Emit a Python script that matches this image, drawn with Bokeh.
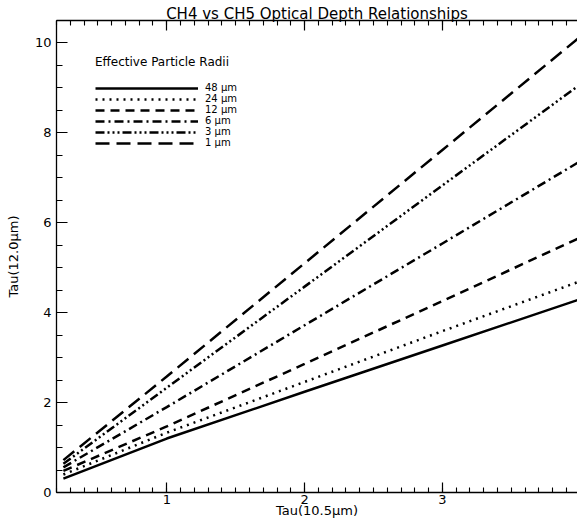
import numpy as np
from bokeh.plotting import figure
from bokeh.models import (LinearAxis, FixedTicker, Legend, LegendItem,
                          Range1d, CustomJSTickFormatter)
from bokeh.embed import file_html
from bokeh.resources import INLINE

# Optical depth at 10.5 um (CH4) and the matching 12.0 um (CH5) values
tau_105 = [0.25, 1.0, 2.0, 3.0, 4.0]
tau_120_48um = [0.31, 1.20, 2.24, 3.27, 4.30]
tau_120_24um = [0.40, 1.33, 2.46, 3.59, 4.70]
tau_120_12um = [0.48, 1.47, 2.86, 4.26, 5.67]
tau_120_6um = [0.56, 1.90, 3.72, 5.54, 7.37]
tau_120_3um = [0.64, 2.33, 4.58, 6.83, 9.08]
tau_120_1um = [0.72, 2.58, 5.10, 7.62, 10.14]

radius_labels = ["48 \u03bcm", "24 \u03bcm", "12 \u03bcm", "6 \u03bcm", "3 \u03bcm", "1 \u03bcm"]
x_ticks = [1, 2, 3, 4]
y_ticks = [0, 2, 4, 6, 8, 10]

FONT = "DejaVu Sans"

p = figure(width=577, height=520, output_backend="svg", toolbar_location=None,
           x_range=Range1d(0.2, 3.98), y_range=Range1d(0, 10.5),
           x_axis_location=None, y_axis_location=None,
           min_border_left=56, min_border_right=0, min_border_top=20, min_border_bottom=28)
p.outline_line_color = None
p.background_fill_color = "white"
p.border_fill_color = "white"
for g in p.grid:
    g.visible = False

x_ticker = FixedTicker(ticks=x_ticks,
                       minor_ticks=[round(v, 2) for v in np.arange(0.2, 4.001, 0.1)])
y_ticker = FixedTicker(ticks=y_ticks,
                       minor_ticks=[round(v, 2) for v in np.arange(0.0, 10.501, 0.5)])


def style_axis(ax, major_len, minor_len):
    ax.axis_line_color = "black"
    ax.axis_line_width = 1.3
    ax.major_tick_in = major_len
    ax.major_tick_out = 0
    ax.minor_tick_in = minor_len
    ax.minor_tick_out = 0
    ax.major_tick_line_color = "black"
    ax.minor_tick_line_color = "black"
    ax.major_tick_line_width = 1.2
    ax.minor_tick_line_width = 1.1
    ax.major_label_text_font = FONT
    ax.major_label_text_font_size = "13px"
    ax.major_label_text_color = "black"
    ax.axis_label_text_font = FONT
    ax.axis_label_text_font_style = "normal"
    ax.axis_label_text_color = "black"


bottom = LinearAxis(ticker=x_ticker, axis_label="Tau(10.5\u03bcm)")
style_axis(bottom, 10, 5)
bottom.major_label_standoff = 2
bottom.axis_label_text_font_size = "13px"
bottom.axis_label_standoff = -4
p.add_layout(bottom, "below")

# top frame edge carries the chart title as its axis label
top = LinearAxis(ticker=x_ticker, formatter=CustomJSTickFormatter(code="return ''"),
                 axis_label="CH4 vs CH5 Optical Depth Relationships")
style_axis(top, 10, 5)
top.major_label_text_font_size = "0px"
top.major_label_standoff = 0
top.axis_label_text_font_size = "15px"
top.axis_label_standoff = -2
p.add_layout(top, "above")

left = LinearAxis(ticker=y_ticker, axis_label="Tau(12.0\u03bcm)")
style_axis(left, 11, 6)
left.major_label_standoff = 5
left.axis_label_text_font_size = "13px"
left.axis_label_standoff = 11
p.add_layout(left, "left")

series = [tau_120_48um, tau_120_24um, tau_120_12um, tau_120_6um, tau_120_3um, tau_120_1um]
dashes = ["solid", "2 5", "9 6", "9 4 2 4", "9 3 2 3 2 3 2 3", "14 7"]

items = []
for vals, dash, lab in zip(series, dashes, radius_labels):
    r = p.line(tau_105, vals, line_color="black", line_width=2.5, line_dash=dash)
    items.append(LegendItem(label=lab, renderers=[r]))

legend = Legend(items=items, location=(39, 344), title="Effective Particle Radii",
                border_line_color=None, background_fill_alpha=0,
                padding=0, margin=0, spacing=0,
                glyph_width=103, glyph_height=10, label_height=10, label_standoff=7,
                label_text_font=FONT, label_text_font_size="10px",
                label_text_color="black",
                title_text_font=FONT, title_text_font_size="12px",
                title_text_color="black",
                title_text_font_style="normal", title_standoff=13)
p.add_layout(legend)

open("out.html", "w").write(file_html(p, INLINE))
